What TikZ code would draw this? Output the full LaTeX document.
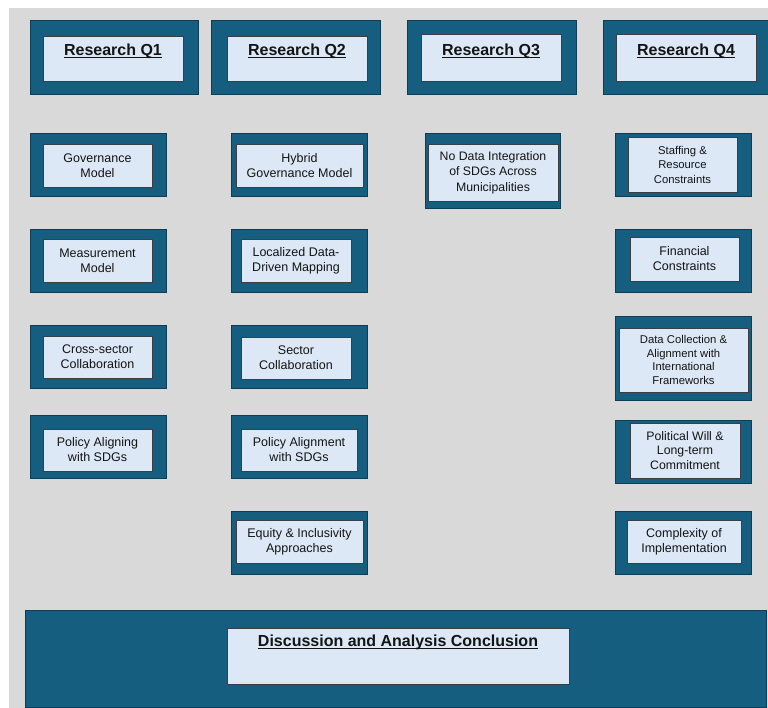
\documentclass[tikz,border=0pt]{standalone}
\usepackage{fontspec}
\setmainfont{Liberation Sans}
\definecolor{bggrey}{HTML}{D9D9D9}
\definecolor{teal}{HTML}{165E80}
\definecolor{tealedge}{HTML}{0E3E55}
\definecolor{paleblue}{HTML}{DCE8F5}
\definecolor{inedge}{HTML}{3A3F44}
\definecolor{txtcol}{HTML}{141414}
\newlength\myulwidth
\newcommand{\ttlul}[1]{\settowidth{\myulwidth}{#1}\rlap{\rule[-2.6pt]{\myulwidth}{1pt}}#1}
\tikzset{
  outerbox/.style={draw=tealedge, fill=teal, line width=1pt, inner sep=0pt},
  innerbox/.style={draw=inedge, fill=paleblue, line width=0.9pt, inner sep=0pt,
     align=center, text=txtcol, font=\fontsize{12.5}{15}\selectfont},
  smalltxt/.style={font=\fontsize{11.3}{14.5}\selectfont},
  titletxt/.style={text=txtcol, inner sep=0pt, font=\fontsize{16}{19}\selectfont\bfseries},
}
\begin{document}
\begin{tikzpicture}[x=1pt,y=-1pt]
\useasboundingbox (0,0) rectangle (768,708);
\begin{scope}
\clip (0,0) rectangle (768,708);
\fill[bggrey] (9,8) rectangle (768,708);

% ---- Research question headers
\node[outerbox, minimum width=168, minimum height=74] (q1o) at (114,58) {};
\node[innerbox, minimum width=140, minimum height=45] (q1i) at (113,58.5) {};
\node[titletxt] (q1t) at (113,51) {\ttlul{Research Q1}};

\node[outerbox, minimum width=169, minimum height=74] (q2o) at (295.5,58) {};
\node[innerbox, minimum width=140, minimum height=45] (q2i) at (297,58.5) {};
\node[titletxt] (q2t) at (297,51) {\ttlul{Research Q2}};

\node[outerbox, minimum width=169, minimum height=74] (q3o) at (491.5,58) {};
\node[innerbox, minimum width=140, minimum height=47] (q3i) at (491,57.5) {};
\node[titletxt] (q3t) at (491,51) {\ttlul{Research Q3}};

\node[outerbox, minimum width=169, minimum height=74] (q4o) at (687.5,58) {};
\node[innerbox, minimum width=140, minimum height=47] (q4i) at (686,57.5) {};
\node[titletxt] (q4t) at (686,51) {\ttlul{Research Q4}};

% ---- Column 1
\node[outerbox, minimum width=136, minimum height=63] (c1ao) at (98,165.5) {};
\node[innerbox, minimum width=109, minimum height=43] (c1a) at (97.5,165.5) {Governance\\Model};

\node[outerbox, minimum width=136, minimum height=63] (c1bo) at (98,261.5) {};
\node[innerbox, minimum width=109, minimum height=43] (c1b) at (97.5,260.5) {Measurement\\Model};

\node[outerbox, minimum width=136, minimum height=62] (c1co) at (98,357) {};
\node[innerbox, minimum width=109, minimum height=42] (c1c) at (97.5,357) {Cross-sector\\Collaboration};

\node[outerbox, minimum width=136, minimum height=63] (c1do) at (98,446.5) {};
\node[innerbox, minimum width=109, minimum height=42] (c1d) at (97.5,450) {Policy Aligning\\with SDGs};

% ---- Column 2
\node[outerbox, minimum width=136, minimum height=63] (c2ao) at (299,165.5) {};
\node[innerbox, minimum width=127, minimum height=43] (c2a) at (299.5,165.5) {Hybrid\\Governance Model};

\node[outerbox, minimum width=136, minimum height=63] (c2bo) at (299,261.5) {};
\node[innerbox, minimum width=110, minimum height=43] (c2b) at (296,260.5) {Localized Data-\\Driven Mapping};

\node[outerbox, minimum width=136, minimum height=62] (c2co) at (299,357) {};
\node[innerbox, minimum width=110, minimum height=42] (c2c) at (296,358) {Sector\\Collaboration};

\node[outerbox, minimum width=136, minimum height=63] (c2do) at (299,446.5) {};
\node[innerbox, minimum width=116, minimum height=42] (c2d) at (299,450) {Policy Alignment\\with SDGs};

\node[outerbox, minimum width=136, minimum height=63] (c2eo) at (299,542.5) {};
\node[innerbox, minimum width=127, minimum height=43] (c2e) at (299.5,541.5) {Equity \& Inclusivity\\Approaches};

% ---- Column 3
\node[outerbox, minimum width=135, minimum height=75] (c3ao) at (492.5,171.5) {};
\node[innerbox, minimum width=130, minimum height=57, font=\fontsize{12.3}{15.5}\selectfont] (c3a) at (493,172.5) {No Data Integration\\of SDGs Across\\Municipalities};

% ---- Column 4
\node[outerbox, minimum width=136, minimum height=63] (c4ao) at (683,165.5) {};
\node[innerbox, smalltxt, minimum width=109, minimum height=55] (c4a) at (682.5,164.5) {Staffing \&\\Resource\\Constraints};

\node[outerbox, minimum width=136, minimum height=63] (c4bo) at (683,261.5) {};
\node[innerbox, minimum width=109, minimum height=44] (c4b) at (684.5,259) {Financial\\Constraints};

\node[outerbox, minimum width=136, minimum height=83] (c4co) at (683,358.5) {};
\node[innerbox, minimum width=129, minimum height=64, font=\fontsize{11.3}{13.7}\selectfont] (c4c) at (683.5,360) {Data Collection \&\\Alignment with\\International\\Frameworks};

\node[outerbox, minimum width=136, minimum height=63] (c4do) at (683,451.5) {};
\node[innerbox, minimum width=110, minimum height=55, font=\fontsize{12.3}{14.5}\selectfont] (c4d) at (685,450.5) {Political Will \&\\Long-term\\Commitment};

\node[outerbox, minimum width=136, minimum height=63] (c4eo) at (683,542.5) {};
\node[innerbox, minimum width=114, minimum height=43] (c4e) at (684,541.5) {Complexity of\\Implementation};

% ---- Bottom conclusion
\node[outerbox, minimum width=741, minimum height=97.5] (endo) at (395.5,658.75) {};
\node[innerbox, minimum width=342, minimum height=56] (endi) at (398,656) {};
\node[titletxt] (endt) at (398,642) {\ttlul{Discussion and Analysis Conclusion}};
\end{scope}
\end{tikzpicture}
\end{document}
